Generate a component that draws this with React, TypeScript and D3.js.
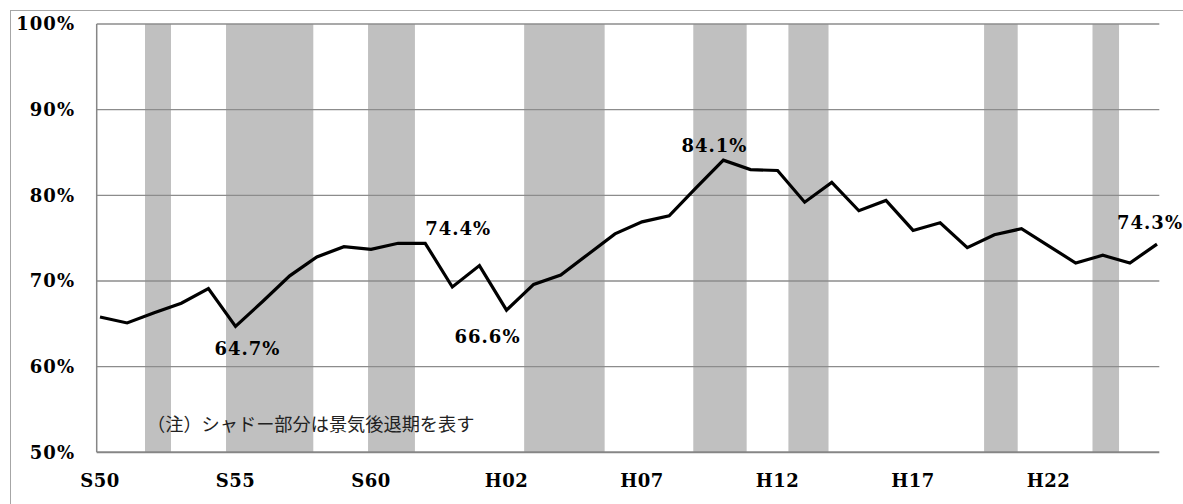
import React from "react";
import * as d3 from "d3";

const years: string[] = [
  "S50","S51","S52","S53","S54","S55","S56","S57","S58","S59",
  "S60","S61","S62","S63","H01","H02","H03","H04","H05","H06",
  "H07","H08","H09","H10","H11","H12","H13","H14","H15","H16",
  "H17","H18","H19","H20","H21","H22","H23","H24","H25","H26",
];
const values: number[] = [
  65.8, 65.1, 66.3, 67.4, 69.1, 64.7, 67.6, 70.6, 72.8, 74.0,
  73.7, 74.4, 74.4, 69.3, 71.8, 66.6, 69.6, 70.7, 73.1, 75.5,
  76.9, 77.6, 80.9, 84.1, 83.0, 82.9, 79.2, 81.5, 78.2, 79.4,
  75.9, 76.8, 73.9, 75.4, 76.1, 74.1, 72.1, 73.0, 72.1, 74.3,
];
const tickLabels: string[] = ["S50","S55","S60","H02","H07","H12","H17","H22"];
const yTicks: number[] = [50, 60, 70, 80, 90, 100];
// recession shading, in category-index units
const recessionStart: number[] = [1.66, 4.65, 9.89, 15.65, 21.89, 25.4, 32.62, 36.62];
const recessionEnd: number[] = [2.62, 7.87, 11.62, 18.62, 23.86, 26.88, 33.86, 37.6];
// annotated points: index and placement
const annotIndex: number[] = [5, 12, 15, 23, 39];
const annotDx: number[] = [12, 33, -19, -9, -7];
const annotDy: number[] = [29, -8, 33, -8, -15];
const note = "（注）シャドー部分は景気後退期を表す";

const W = 1183;
const H = 504;
const plotLeft = 96.7;
const plotRight = 1159.3;

export default function App() {
  const x = d3.scaleLinear().domain([0, years.length - 1]).range([100, 1157]);
  const y = d3.scaleLinear().domain([50, 100]).range([452.3, 24]);
  const line = d3
    .line<number>()
    .x((_, i) => x(i))
    .y((d) => y(d));
  const numFont = "'DejaVu Serif', serif";

  return (
    <svg
      width={W}
      height={H}
      style={{ position: "absolute", left: 0, top: 0, background: "#fff" }}
    >
      <rect x={10.5} y={10.5} width={W + 20} height={H + 20} fill="#fff" stroke="#a6a6a6" strokeWidth={1} />
      {recessionStart.map((s, i) => (
        <rect
          key={"b" + i}
          x={x(s)}
          y={y(100)}
          width={x(recessionEnd[i]) - x(s)}
          height={y(50) - y(100)}
          fill="#c0c0c0"
        />
      ))}
      {yTicks.map((t) => (
        <line
          key={"g" + t}
          x1={plotLeft}
          x2={plotRight}
          y1={y(t)}
          y2={y(t)}
          stroke={t === 50 ? "#868686" : "#8c8c8c"}
          strokeWidth={t === 50 ? 2 : 1.3}
        />
      ))}
      <line x1={plotLeft} x2={plotLeft} y1={y(100)} y2={y(50)} stroke="#868686" strokeWidth={1.5} />
      {yTicks.map((t) => (
        <text
          key={"yt" + t}
          x={75}
          y={y(t)}
          dy="0.36em"
          textAnchor="end"
          fontFamily={numFont}
          fontWeight="bold"
          fontSize={18}
          letterSpacing={1}
          fill="#000"
        >
          {t + "%"}
        </text>
      ))}
      {years.map((yr, i) =>
        tickLabels.includes(yr) ? (
          <text
            key={"xt" + yr}
            x={x(i)}
            y={487}
            textAnchor="middle"
            fontFamily={numFont}
            fontWeight="bold"
            fontSize={18}
            letterSpacing={0.5}
            fill="#000"
          >
            {yr}
          </text>
        ) : null
      )}
      <path d={line(values) || ""} fill="none" stroke="#000" strokeWidth={3.2} strokeLinejoin="miter" />
      {annotIndex.map((idx, k) => (
        <text
          key={"a" + idx}
          x={x(idx) + annotDx[k]}
          y={y(values[idx]) + annotDy[k]}
          textAnchor={k === 4 ? "end" : "middle"}
          fontFamily={numFont}
          fontWeight="bold"
          fontSize={18}
          letterSpacing={1}
          fill="#000"
          dx={k === 4 ? 33 : 0}
        >
          {values[idx].toFixed(1) + "%"}
        </text>
      ))}
      <text
        x={147}
        y={431}
        fontFamily="'Noto Sans CJK JP', sans-serif"
        fontSize={18.2}
        fill="#222"
      >
        {note}
      </text>
    </svg>
  );
}
